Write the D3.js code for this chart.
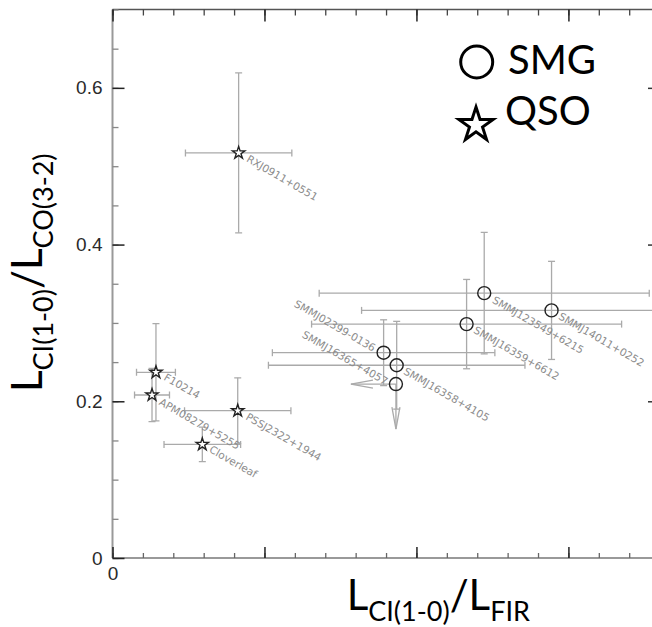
<!DOCTYPE html>
<html>
<head>
<meta charset="utf-8">
<script src="https://cdn.jsdelivr.net/npm/d3@7"></script>
<style>
  html, body { margin: 0; padding: 0; background: #fff; }
  svg { display: block; }
</style>
</head>
<body>
<div id="chart"></div>
<script>
// QSOs (stars)
const qsoNames = ["RXJ0911+0551", "F10214", "APM08279+5255", "PSSJ2322+1944", "Cloverleaf"];
const qsoX = [0.830, 0.286, 0.260, 0.824, 0.591];
const qsoXErr = [0.35, 0.128, 0.115, 0.35, 0.252];
const qsoY = [0.517, 0.237, 0.208, 0.188, 0.145];
const qsoYErr = [0.102, 0.062, 0.034, 0.042, 0.022];

// SMGs (circles); null error = upper limit
const smgNames = ["SMMJ02399-0136", "SMMJ16358+4105", "SMMJ16365+4057", "SMMJ16359+6612", "SMMJ123549+6215", "SMMJ14011+0252"];
const smgX = [1.784, 1.870, 1.865, 2.330, 2.446, 2.889];
const smgXErr = [0.732, 0.844, null, 1.02, 1.086, 1.25];
const smgY = [0.262, 0.246, 0.222, 0.2985, 0.338, 0.316];
const smgYErr = [0.042, 0.056, null, 0.057, 0.0775, 0.0626];

const yTicks = [0, 0.2, 0.4, 0.6];
const xTicks = [0, 1, 2, 3];
const legendItems = ["SMG", "QSO"];

// label placement: pixel offset from the point, text anchor
const labelPlacement = {
  "RXJ0911+0551": [9, 5, "start"],
  "F10214": [9, 4, "start"],
  "APM08279+5255": [8, 6, "start"],
  "PSSJ2322+1944": [9, 5, "start"],
  "Cloverleaf": [8, 4, "start"],
  "SMMJ02399-0136": [-9, -4, "end"],
  "SMMJ16358+4105": [8, 5, "start"],
  "SMMJ16365+4057": [-9, -2, "end"],
  "SMMJ16359+6612": [8, 5, "start"],
  "SMMJ123549+6215": [9, 6, "start"],
  "SMMJ14011+0252": [8, 5, "start"]
};

const width = 652, height = 627;
const plot = { left: 112.5, top: 9.5, right: 652, bottom: 558 };

const svg = d3.select("#chart").append("svg")
  .attr("width", width)
  .attr("height", height);

const x = d3.scaleLinear().domain([0, 3.55]).range([plot.left, plot.right]);
const y = d3.scaleLinear().domain([0, 0.7]).range([plot.bottom, plot.top]);

// Frame
svg.append("line")
  .attr("x1", plot.left).attr("x2", plot.right)
  .attr("y1", plot.top).attr("y2", plot.top)
  .style("stroke", "#555").style("stroke-width", 1.5);
svg.append("line")
  .attr("x1", plot.left).attr("x2", plot.left)
  .attr("y1", plot.top).attr("y2", plot.bottom)
  .style("stroke", "#999").style("stroke-width", 2);
svg.append("line")
  .attr("x1", plot.left).attr("x2", plot.right)
  .attr("y1", plot.bottom).attr("y2", plot.bottom)
  .style("stroke", "#999").style("stroke-width", 2);

// Axes: minor then major ticks, all pointing inward
function styleAxis(g, color, w) {
  g.select(".domain").remove();
  g.selectAll(".tick line").style("stroke", color).style("stroke-width", w);
  g.selectAll(".tick text")
    .style("font-family", "'Liberation Sans', Arial, sans-serif")
    .style("font-size", "19px")
    .style("fill", "#2a2a2a");
}

const yMinor = d3.range(0, 0.701, 0.05);
const xMinor = d3.range(0, 3.55, 0.2);

svg.append("g").attr("transform", `translate(${plot.left},0)`)
  .call(d3.axisLeft(y).tickValues(yMinor).tickSize(-6).tickFormat(""))
  .call(g => styleAxis(g, "#888", 1.3));
svg.append("g").attr("transform", `translate(${plot.left},0)`)
  .call(d3.axisLeft(y).tickValues(yTicks).tickSize(-12).tickPadding(10)
    .tickFormat(d => d === 0 ? "0" : d3.format(".1f")(d)))
  .call(g => styleAxis(g, "#222", 1.5));

svg.append("g").attr("transform", `translate(0,${plot.bottom})`)
  .call(d3.axisBottom(x).tickValues(xMinor).tickSize(-5).tickFormat(""))
  .call(g => styleAxis(g, "#666", 1.3));
svg.append("g").attr("transform", `translate(0,${plot.bottom})`)
  .call(d3.axisBottom(x).tickValues(xTicks).tickSize(-11).tickPadding(9)
    .tickFormat(d => d === 0 ? "0" : ""))
  .call(g => styleAxis(g, "#222", 1.5));

svg.append("g").attr("transform", `translate(0,${plot.top})`)
  .call(d3.axisTop(x).tickValues(xMinor).tickSize(-6).tickFormat(""))
  .call(g => styleAxis(g, "#444", 1.3));
svg.append("g").attr("transform", `translate(0,${plot.top})`)
  .call(d3.axisTop(x).tickValues(xTicks).tickSize(-12).tickFormat(""))
  .call(g => styleAxis(g, "#222", 1.5));

svg.append("g").attr("transform", `translate(${plot.right},0)`)
  .call(d3.axisRight(y).tickValues(yTicks.slice(1)).tickSize(-4).tickFormat(""))
  .call(g => styleAxis(g, "#333", 1.5));

// Build points
const points = [];
qsoNames.forEach((n, i) => points.push({ name: n, type: "QSO", x: qsoX[i], y: qsoY[i], xe: qsoXErr[i], ye: qsoYErr[i] }));
smgNames.forEach((n, i) => points.push({ name: n, type: "SMG", x: smgX[i], y: smgY[i], xe: smgXErr[i], ye: smgYErr[i] }));

svg.append("clipPath").attr("id", "plot-clip")
  .append("rect")
  .attr("x", plot.left).attr("y", plot.top)
  .attr("width", plot.right - plot.left).attr("height", plot.bottom - plot.top);

const errG = svg.append("g").attr("clip-path", "url(#plot-clip)")
  .style("stroke", "#aaa").style("stroke-width", 1.3).style("fill", "none");

const cap = 3.5;
points.filter(d => d.xe != null).forEach(d => {
  const x0 = x(d.x - d.xe), x1 = x(d.x + d.xe), py = y(d.y);
  errG.append("line").attr("x1", x0).attr("x2", x1).attr("y1", py).attr("y2", py);
  errG.append("line").attr("x1", x0).attr("x2", x0).attr("y1", py - cap).attr("y2", py + cap);
  errG.append("line").attr("x1", x1).attr("x2", x1).attr("y1", py - cap).attr("y2", py + cap);
});
points.filter(d => d.ye != null).forEach(d => {
  const y0 = y(d.y - d.ye), y1 = y(d.y + d.ye), px = x(d.x);
  errG.append("line").attr("x1", px).attr("x2", px).attr("y1", y0).attr("y2", y1);
  errG.append("line").attr("x1", px - cap).attr("x2", px + cap).attr("y1", y0).attr("y2", y0);
  errG.append("line").attr("x1", px - cap).attr("x2", px + cap).attr("y1", y1).attr("y2", y1);
});

// Upper-limit arrows
const arrowLen = 45, headLen = 22, headW = 4;
points.filter(d => d.xe == null).forEach(d => {
  const px = x(d.x), py = y(d.y);
  const tip = px - arrowLen;
  errG.append("line").attr("x1", px).attr("x2", tip).attr("y1", py).attr("y2", py);
  errG.append("path").attr("d", `M${tip + headLen},${py - headW}L${tip},${py}L${tip + headLen},${py + headW}`);
});
points.filter(d => d.ye == null).forEach(d => {
  const px = x(d.x), py = y(d.y);
  const tip = py + arrowLen;
  errG.append("line").attr("x1", px).attr("x2", px).attr("y1", py).attr("y2", tip);
  errG.append("path").attr("d", `M${px - headW},${tip - headLen}L${px},${tip}L${px + headW},${tip - headLen}`);
});

// Markers
const starSmall = d3.symbol(d3.symbolStar, 6.5 * 6.5 / 0.8908130915292852);
svg.append("g").selectAll("path")
  .data(points.filter(d => d.type === "QSO"))
  .enter().append("path")
  .attr("d", starSmall)
  .attr("transform", d => `translate(${x(d.x)},${y(d.y)})`)
  .style("fill", "#fff").style("stroke", "#222").style("stroke-width", 1.4);

svg.append("g").selectAll("circle")
  .data(points.filter(d => d.type === "SMG"))
  .enter().append("circle")
  .attr("cx", d => x(d.x)).attr("cy", d => y(d.y)).attr("r", 6.5)
  .style("fill", "none").style("stroke", "#222").style("stroke-width", 1.4);

// Point labels
svg.append("g").selectAll("text")
  .data(points)
  .enter().append("text")
  .attr("transform", d => {
    const p = labelPlacement[d.name];
    return `translate(${x(d.x) + p[0]},${y(d.y) + p[1]}) rotate(30)`;
  })
  .attr("dy", "0.35em")
  .attr("text-anchor", d => labelPlacement[d.name][2])
  .style("font-family", "'DejaVu Sans', sans-serif")
  .style("font-size", "10.5px")
  .style("fill", "#8c8c8c")
  .text(d => d.name);

// Legend
const legendFont = "Lato, 'Open Sans', sans-serif";
svg.append("circle")
  .attr("cx", 476.7).attr("cy", 62).attr("r", 16)
  .style("fill", "none").style("stroke", "#000").style("stroke-width", 3);
svg.append("path")
  .attr("d", d3.symbol(d3.symbolStar, 18 * 18 / 0.8908130915292852)())
  .attr("transform", "translate(476,125)")
  .style("fill", "#fff").style("stroke", "#000").style("stroke-width", 3);
svg.append("text").attr("x", 508).attr("y", 73.5)
  .style("font-family", legendFont).style("font-size", "40px")
  .text(legendItems[0]);
svg.append("text").attr("x", 505).attr("y", 125)
  .style("font-family", legendFont).style("font-size", "40px")
  .text(legendItems[1]);

// Axis titles
function axisTitle(t, subA, mid, subB) {
  t.append("tspan").text("L");
  t.append("tspan").attr("dy", 11).style("font-size", "27px").text(subA);
  t.append("tspan").attr("dy", -11).text(mid);
  t.append("tspan").attr("dy", 11).style("font-size", "27px").text(subB);
}

const yTitle = svg.append("text")
  .attr("transform", "translate(42,392) rotate(-90)")
  .style("font-family", legendFont).style("font-size", "42px").style("fill", "#000");
axisTitle(yTitle, "CI(1-0)", "/L", "CO(3-2)");

const xTitle = svg.append("text")
  .attr("x", 346.7).attr("y", 610)
  .style("font-family", legendFont).style("font-size", "42px").style("fill", "#000");
axisTitle(xTitle, "CI(1-0)", "/L", "FIR");
</script>
</body>
</html>
